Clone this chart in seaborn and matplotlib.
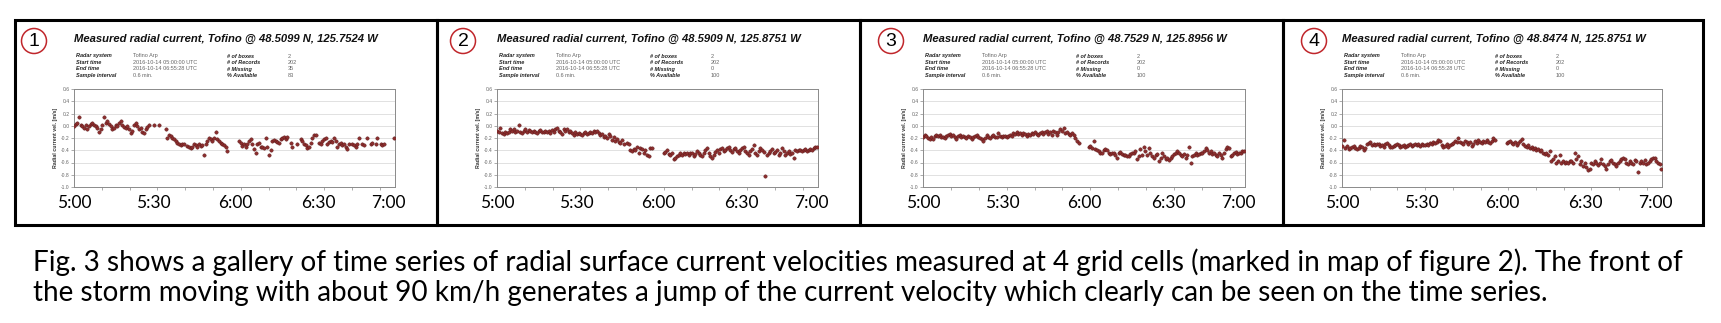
import numpy as np
import pandas as pd
import matplotlib
matplotlib.use("Agg")
import matplotlib.pyplot as plt
import seaborn as sns
from matplotlib.patches import Rectangle, Ellipse
from matplotlib.ticker import FixedLocator, MultipleLocator

# ---------------- data ----------------
nan = np.nan
sample_interval_min = 0.6

panel_numbers = ["1", "2", "3", "4"]
lat_labels = ["48.5099", "48.5909", "48.7529", "48.8474"]
lon_labels = ["125.7524", "125.8751", "125.8956", "125.8751"]
n_boxes = ["2", "2", "2", "2"]
n_records = ["202", "202", "202", "202"]
n_missing = ["35", "0", "0", "0"]
pct_available = ["83", "100", "100", "100"]

radar_system = "Tofino Arp"
start_time = "2016-10-14 05:00:00 UTC"
end_time = "2016-10-14 06:55:28 UTC"
sample_interval_txt = "0.6 min."

time_tick_labels = ["5:00", "5:30", "6:00", "6:30", "7:00"]
time_tick_minutes = [0, 28.5, 58, 88, 113]
y_ticks = [0.6, 0.4, 0.2, 0.0, -0.2, -0.4, -0.6, -0.8, -1.0]

vel_cell1 = [
    0.0, 0.03, 0.05, 0.15, 0.02, 0.0, -0.04, 0.01, -0.06, 0.0,
    0.03, 0.04, 0.02, 0.0, -0.04, -0.1, -0.05, 0.02, 0.15, 0.05,
    0.08, 0.03, 0.0, -0.05, -0.03, 0.02, 0.0, 0.05, 0.08, 0.02,
    -0.02, -0.04, 0.0, -0.05, -0.12, -0.08, 0.02, 0.04, 0.0, -0.05,
    -0.03, -0.1, -0.12, -0.06, -0.02, 0.02, nan, nan, 0.02, nan,
    nan, 0.02, nan, nan, nan, -0.05, -0.2, -0.15, -0.17, -0.2,
    -0.22, -0.25, -0.28, -0.3, -0.31, -0.3, -0.29, nan, -0.33, -0.35,
    -0.37, -0.35, -0.3, -0.32, -0.34, -0.3, -0.33, -0.32, -0.47, -0.3,
    -0.25, -0.2, -0.22, -0.25, -0.2, -0.1, -0.22, -0.25, -0.28, -0.3,
    -0.32, -0.35, -0.42, nan, nan, nan, nan, nan, nan, -0.25,
    -0.28, -0.33, -0.3, -0.35, -0.3, -0.25, -0.22, -0.3, -0.38, -0.45,
    -0.3, -0.28, -0.35, -0.34, -0.36, -0.2, -0.35, -0.48, -0.4, -0.25,
    -0.23, -0.25, -0.27, -0.28, -0.22, -0.2, -0.18, -0.22, -0.18, nan,
    -0.28, -0.35, nan, nan, -0.3, nan, -0.22, -0.25, -0.3, -0.32,
    -0.36, -0.34, -0.28, -0.2, -0.15, -0.15, nan, -0.28, -0.3, -0.25,
    -0.22, -0.2, -0.3, -0.27, -0.25, -0.26, -0.2, -0.25, -0.35, -0.3,
    -0.28, -0.32, -0.3, -0.35, -0.38, -0.3, nan, -0.3, -0.32, -0.35,
    -0.3, -0.2, nan, -0.3, -0.32, nan, -0.2, nan, -0.3, -0.28,
    nan, -0.3, -0.2, nan, -0.3, -0.32, -0.3, nan, nan, nan,
    nan, nan, -0.2,
]

vel_cell2 = [
    -0.08, -0.1, -0.03, -0.12, -0.13, -0.1, -0.12, -0.1, -0.06, -0.08,
    -0.05, -0.1, -0.08, 0.02, -0.1, -0.12, -0.08, -0.06, -0.1, -0.07,
    -0.09, -0.11, -0.08, -0.1, -0.12, -0.09, -0.07, -0.1, -0.11, -0.08,
    -0.1, -0.08, -0.12, -0.07, -0.1, -0.06, -0.04, -0.08, -0.1, -0.13,
    -0.06, -0.08, -0.05, -0.1, -0.08, -0.12, -0.15, -0.1, -0.14, -0.12,
    -0.13, -0.15, -0.12, -0.11, -0.14, -0.12, -0.1, -0.12, -0.09, -0.1,
    -0.08, -0.12, -0.15, -0.13, -0.18, -0.16, -0.2, -0.14, -0.17, -0.23,
    -0.19, -0.25, -0.22, -0.26, -0.28, -0.24, -0.3, nan, -0.28, -0.3,
    -0.4, -0.42, -0.38, -0.4, -0.35, -0.45, -0.36, -0.38, -0.44, -0.4,
    -0.48, -0.5, -0.37, -0.37, nan, nan, nan, nan, nan, nan,
    -0.45, -0.43, -0.4, -0.46, -0.48, -0.45, -0.55, -0.52, -0.5, -0.47,
    -0.45, -0.47, -0.44, -0.46, -0.45, -0.47, -0.44, -0.45, -0.5, -0.46,
    -0.42, -0.45, -0.48, -0.5, -0.44, -0.4, -0.36, -0.45, -0.5, -0.52,
    -0.48, -0.43, -0.4, -0.45, -0.38, -0.36, -0.42, -0.4, -0.37, -0.35,
    -0.4, -0.43, -0.38, -0.36, -0.42, -0.45, -0.4, -0.37, -0.35, -0.42,
    -0.45, -0.48, -0.42, -0.38, -0.32, -0.44, -0.47, -0.42, -0.36, -0.4,
    -0.43, -0.82, -0.48, -0.45, -0.42, -0.38, -0.45, -0.43, -0.4, -0.47,
    -0.44, -0.36, -0.42, -0.47, -0.44, -0.41, -0.46, -0.44, -0.52, -0.4,
    -0.41, -0.39, -0.4, -0.42, -0.4, -0.38, -0.41, -0.39, -0.38, -0.4,
    -0.37, -0.35, -0.34,
]

vel_cell3 = [
    -0.18, -0.15, -0.16, -0.2, -0.22, -0.19, -0.21, -0.17, -0.15, -0.16,
    -0.15, -0.18, -0.19, -0.2, -0.17, -0.15, -0.14, -0.16, -0.15, -0.18,
    -0.22, -0.17, -0.15, -0.18, -0.16, -0.19, -0.2, -0.17, -0.18, -0.21,
    -0.19, -0.16, -0.15, -0.18, -0.2, -0.22, -0.25, -0.2, -0.15, -0.18,
    -0.2, -0.17, -0.15, -0.18, -0.19, -0.12, -0.16, -0.18, -0.17, -0.16,
    -0.18, -0.17, -0.15, -0.16, -0.12, -0.14, -0.11, -0.13, -0.12, -0.15,
    -0.12, -0.14, -0.16, -0.13, -0.15, -0.12, -0.14, -0.1, -0.13, -0.15,
    -0.12, -0.1, -0.14, -0.11, -0.09, -0.13, -0.1, -0.15, -0.08, -0.1,
    -0.15, -0.1, -0.05, -0.08, -0.03, -0.12, -0.1, -0.13, -0.15, -0.12,
    -0.15, -0.2, -0.25, -0.28, nan, nan, nan, nan, nan, -0.35,
    -0.33, -0.36, -0.25, -0.38, -0.4, -0.42, -0.45, -0.44, -0.4, -0.38,
    -0.4, -0.44, -0.46, -0.44, -0.44, -0.48, -0.52, -0.44, -0.43, -0.46,
    -0.48, -0.47, -0.49, -0.5, -0.46, -0.45, -0.44, -0.42, -0.55, -0.5,
    -0.38, -0.48, -0.35, -0.42, -0.48, -0.36, -0.45, -0.5, -0.53, -0.48,
    -0.46, -0.57, -0.52, -0.44, -0.5, -0.55, -0.53, -0.56, -0.52, -0.5,
    -0.46, -0.44, -0.42, -0.45, -0.48, -0.5, -0.46, -0.52, -0.48, -0.34,
    -0.6, -0.5, -0.47, -0.45, -0.48, -0.46, -0.44, -0.45, -0.42, -0.36,
    -0.4, -0.44, -0.42, -0.46, -0.45, -0.48, -0.5, -0.44, -0.47, -0.52,
    -0.44, -0.38, -0.34, -0.36, -0.5, -0.47, -0.45, -0.43, -0.46, -0.44,
    -0.45, -0.42, -0.42,
]

vel_cell4 = [
    -0.33, -0.24, -0.36, -0.33, -0.38, -0.36, -0.35, -0.33, -0.37, -0.38,
    -0.36, -0.33, -0.34, -0.4, -0.37, -0.3, -0.28, -0.27, -0.31, -0.3,
    -0.32, -0.29, -0.3, -0.33, -0.31, -0.34, -0.3, -0.28, -0.32, -0.34,
    -0.35, -0.33, -0.32, -0.3, -0.31, -0.34, -0.33, -0.32, -0.35, -0.33,
    -0.31, -0.3, -0.33, -0.31, -0.29, -0.32, -0.3, -0.33, -0.3, -0.31,
    -0.32, -0.3, -0.31, -0.28, -0.3, -0.26, -0.28, -0.27, -0.24, -0.25,
    -0.32, -0.34, -0.33, -0.3, -0.35, -0.31, -0.3, -0.28, -0.25, -0.27,
    -0.2, -0.26, -0.28, -0.3, -0.25, -0.27, -0.29, -0.26, -0.33, -0.3,
    -0.25, -0.28, -0.24, -0.26, -0.28, -0.25, -0.27, -0.24, -0.26, -0.28,
    -0.25, -0.2, -0.24, nan, nan, nan, nan, nan, nan, -0.28,
    -0.27, -0.25, -0.28, -0.3, -0.27, -0.31, -0.28, -0.25, -0.22, -0.3,
    -0.33, -0.35, -0.32, -0.37, -0.34, -0.38, -0.36, -0.4, -0.38, -0.42,
    -0.4, -0.44, -0.46, -0.45, -0.48, -0.42, -0.58, -0.55, -0.5, -0.6,
    -0.57, -0.47, -0.6, -0.58, -0.6, -0.59, -0.6, -0.58, -0.57, -0.6,
    -0.45, -0.55, -0.5, -0.62, -0.58, -0.65, -0.6, -0.68, -0.72, -0.7,
    -0.6, -0.62, -0.58, -0.6, -0.64, -0.6, -0.55, -0.62, -0.65, -0.7,
    -0.62, -0.58, -0.56, -0.6, -0.62, -0.66, -0.6, -0.58, -0.55, -0.52,
    -0.54, -0.6, -0.62, -0.57, -0.6, -0.63, -0.56, -0.58, -0.75, -0.6,
    -0.58, -0.6, -0.56, -0.62, -0.6, -0.57, -0.55, -0.52, -0.53, -0.58,
    -0.6, -0.62, -0.7,
]

cells = [vel_cell1, vel_cell2, vel_cell3, vel_cell4]

caption_line1 = ("Fig. 3 shows a gallery of time series of radial surface current velocities "
                 "measured at 4 grid cells (marked in map of figure 2). The front of")
caption_line2 = ("the storm moving with about 90 km/h generates a jump of the current velocity "
                 "which clearly can be seen on the time series.")

# ---------------- layout ----------------
W, H = 1721, 323
sns.set_theme(style="white")
plt.rcParams['font.family'] = ['Liberation Sans', 'DejaVu Sans']

fig = plt.figure(figsize=(W / 100, H / 100), dpi=100)
fig.patch.set_facecolor("white")
renderer = fig.canvas.get_renderer()


def fx(x):
    return x / W


def fy(y):
    return 1 - y / H


def fit(t, target_w):
    w = t.get_window_extent(renderer).width
    t.set_fontsize(t.get_fontsize() * target_w / w)


frames = [(15, 437), (437, 860), (860, 1283), (1283, 1703)]
axes_left = [74, 497, 923, 1342]
axes_width = [321, 321, 322, 320]
circle_cx = [34, 463, 891, 1314]
ax_top, ax_bot = 89, 187
dot_color = "#8c2f2f"
dot_edge = "#5a1414"

for k in range(4):
    x0, x1 = frames[k]
    fig.add_artist(Rectangle((fx(x0), fy(225)), fx(x1 - x0), (225 - 20) / H,
                             fill=False, lw=2.2, ec="black", transform=fig.transFigure))
    cx = circle_cx[k]
    fig.add_artist(Ellipse((fx(cx), fy(41)), 25 / W, 25 / H, fill=False,
                           ec="#c0262b", lw=1.1, transform=fig.transFigure))
    fig.text(fx(cx), fy(42), panel_numbers[k], ha="center", va="center",
             fontsize=14, color="black")

    L = axes_left[k]
    t = fig.text(fx(L), fy(39),
                 f"Measured radial current, Tofino @ {lat_labels[k]} N, {lon_labels[k]} W",
                 ha="left", va="center", fontsize=8, fontweight="bold",
                 fontstyle="italic", color="#111111")
    fit(t, 305)

    rows_y = [56, 62.5, 69, 75.5]
    lab1 = ["Radar system", "Start time", "End time", "Sample interval"]
    val1 = [radar_system, start_time, end_time, sample_interval_txt]
    lab2 = ["# of boxes", "# of Records", "# Missing", "% Available"]
    val2 = [n_boxes[k], n_records[k], n_missing[k], pct_available[k]]
    for r in range(4):
        fig.text(fx(L + 2), fy(rows_y[r]), lab1[r], ha="left", va="center",
                 fontsize=4.0, fontweight="bold", fontstyle="italic", color="#222222")
        fig.text(fx(L + 59), fy(rows_y[r]), val1[r], ha="left", va="center",
                 fontsize=4.0, color="#666666")
        fig.text(fx(L + 153), fy(rows_y[r]), lab2[r], ha="left", va="center",
                 fontsize=4.0, fontweight="bold", fontstyle="italic", color="#222222")
        fig.text(fx(L + 214), fy(rows_y[r]), val2[r], ha="left", va="center",
                 fontsize=4.0, color="#666666")

    ax = fig.add_axes([fx(L), fy(ax_bot), axes_width[k] / W, (ax_bot - ax_top) / H])
    vals = cells[k]
    df = pd.DataFrame({"t": np.arange(len(vals)) * sample_interval_min, "v": vals})
    sns.scatterplot(data=df, x="t", y="v", ax=ax, s=6, color=dot_color,
                    edgecolor=dot_edge, linewidth=0.3, legend=False, zorder=3)
    ax.set_xlim(0, 115.5)
    ax.set_ylim(-1.0, 0.6)
    ax.set_yticks(y_ticks)
    ax.set_yticklabels([f"{v:.1f}" for v in y_ticks])
    ax.grid(axis="y", color="#dcdcdc", lw=0.6)
    ax.set_axisbelow(True)
    for s in ax.spines.values():
        s.set_color("#8a8a8a")
        s.set_linewidth(0.7)
    ax.tick_params(axis="y", which="major", left=True, length=2, width=0.5,
                   color="#8a8a8a", labelsize=3.6, labelcolor="#666666", pad=1)
    ax.xaxis.set_major_locator(FixedLocator(time_tick_minutes))
    ax.set_xticklabels(time_tick_labels, family=["Lato", "DejaVu Sans"])
    ax.xaxis.set_minor_locator(MultipleLocator(10))
    ax.tick_params(axis="x", which="major", bottom=True, length=0, labelsize=12.5,
                   labelcolor="black", pad=6)
    ax.tick_params(axis="x", which="minor", bottom=True, length=2.5, width=0.5,
                   color="#8a8a8a")
    ax.set_xlabel("")
    ax.set_ylabel("Radial current vel. [m/s]", fontsize=3.8, fontweight="bold",
                  color="#333333", labelpad=2)

c1 = fig.text(fx(33), fy(271), caption_line1, ha="left", va="baseline",
              fontsize=16, family=["Lato", "DejaVu Sans"], color="black")
fit(c1, 1660)
fig.text(fx(33), fy(301), caption_line2, ha="left", va="baseline",
         fontsize=c1.get_fontsize(), family=["Lato", "DejaVu Sans"], color="black")

fig.savefig("out.png", dpi=100, facecolor="white")
